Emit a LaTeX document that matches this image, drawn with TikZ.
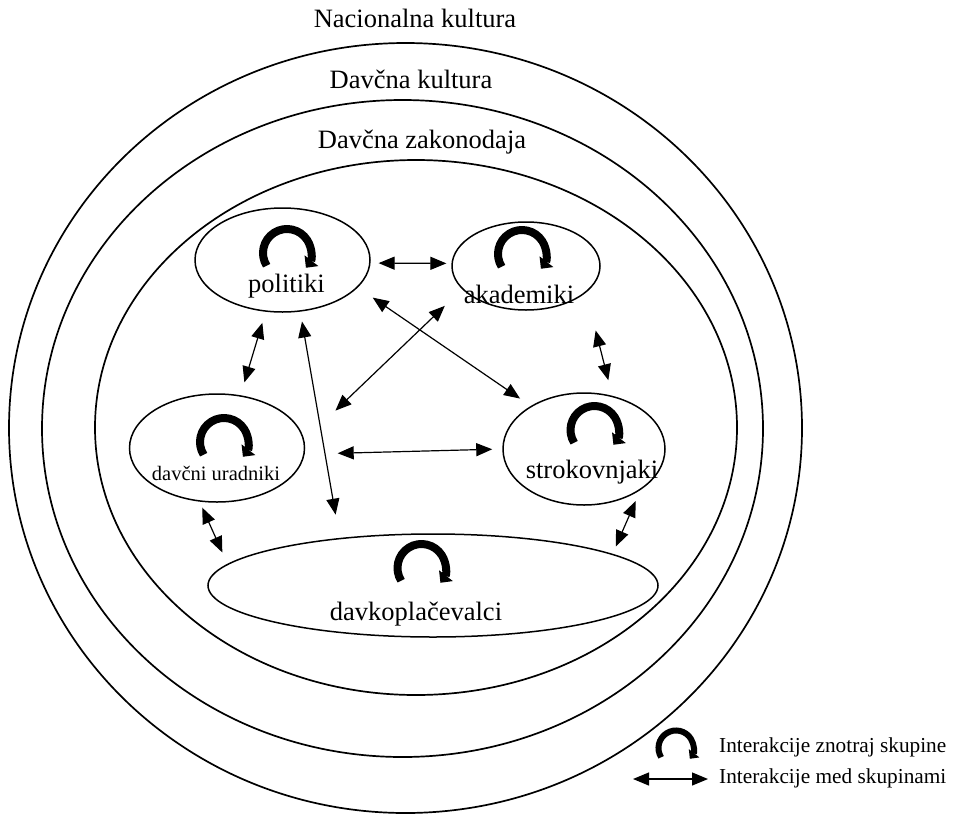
\documentclass[tikz,border=0pt]{standalone}
\usepackage{fontspec}
\setmainfont{Liberation Serif}
\usetikzlibrary{positioning,arrows.meta,shapes.geometric}

\begin{document}
\begin{tikzpicture}[
  x=1pt, y=1pt,
  font=\fontsize{26.5}{30}\selectfont,
  ring/.style={draw, ellipse, line width=1.7pt, inner sep=0pt},
  grp/.style={draw, ellipse, line width=1.5pt, inner sep=0pt},
  ttl/.style={anchor=base, inner sep=0pt},
  grptxt/.style={anchor=base, inner sep=0pt},
  lgdtxt/.style={anchor=base west, inner sep=0pt, font=\fontsize{21.3}{25}\selectfont},
  arr/.style={{Triangle[length=16pt,width=13pt]}-{Triangle[length=16pt,width=13pt]},
              line width=1.2pt},
  cycarr/.style={line width=8pt, -{Triangle[length=9pt,width=17pt]}},
  cyc/.pic={\draw[cycarr] (212:24) arc[start angle=212, end angle=-38, radius=24];}
]
\useasboundingbox (0,0) rectangle (955,-814);

%% the three nested cultures
\node[ring, minimum width=793, minimum height=770] (natcult) at (405.5,-428)   {};
\node[ring, minimum width=721, minimum height=657] (davcult) at (402.5,-428.5) {};
\node[ring, minimum width=642, minimum height=535] (davzak)  at (416,-427.5)   {};

\node[ttl] (natlbl)  at (415,-27)  {Nacionalna kultura};
\node[ttl] (cultlbl) at (411,-88)  {Davčna kultura};
\node[ttl] (zaklbl)  at (422,-148) {Davčna zakonodaja};

%% groups
\node[grp, minimum width=175, minimum height=104] (pol) at (282.5,-260) {};
\node[grp, minimum width=148, minimum height=88]  (aka) at (526,-266)   {};
\node[grp, minimum width=162, minimum height=112] (str) at (584,-449)   {};
\node[grp, minimum width=175, minimum height=108] (dur) at (217,-448)   {};
\node[grp, minimum width=450, minimum height=103] (dkp) at (433,-585.5) {};

\pic at (287,-253)   {cyc};
\pic at (522,-254)   {cyc};
\pic at (594.5,-430) {cyc};
\pic at (224,-442)   {cyc};
\pic at (421.5,-568) {cyc};

\node[grptxt] (poltxt) at (286.5,-292) {politiki};
\node[grptxt] (akatxt) at (519,-303)   {akademiki};
\node[grptxt] (strtxt) at (592,-478)   {strokovnjaki};
\node[grptxt, font=\fontsize{20.5}{24}\selectfont] (durtxt) at (216,-480) {davčni uradniki};
\node[grptxt] (dkptxt) at (416,-620)   {davkoplačevalci};

%% interactions between groups
\draw[arr, shorten <=8pt,  shorten >=5pt]    (pol.-2)    -- (aka.178);
\draw[arr, shorten <=18pt, shorten >=13pt]   (pol.-20)   -- (str.141);
\draw[arr, shorten <=24pt, shorten >=43pt]   (aka.200)   -- (dur.5);
\draw[arr, shorten <=39pt, shorten >=16pt]   (aka.-24)   -- (str.62);
\draw[arr, shorten <=11.5pt, shorten >=13.4pt] (pol.252.5) -- (dur.66);
\draw[arr, shorten <=10pt, shorten >=23.6pt] (pol.-71)   -- (dkp.153);
\draw[arr, shorten <=33pt, shorten >=10pt]   (dur.-4)    -- (str.180);
\draw[arr, shorten <=6.5pt, shorten >=12.5pt] (dur.252.6) -- (dkp.174);
\draw[arr, shorten <=12pt, shorten >=8pt]    (str.-36)   -- (dkp.10);

%% legend
\pic[scale=0.73, cycarr/.append style={line width=6pt,
     -{Triangle[length=7pt,width=13pt]}}] at (676,-748) {cyc};
\coordinate (lgl) at (633,-779);
\coordinate (lgr) at (708,-779);
\draw[arr] (lgl) -- (lgr);
\node[lgdtxt] (lgd1) at (719,-752) {Interakcije znotraj skupine};
\node[lgdtxt] (lgd2) at (719,-783) {Interakcije med skupinami};
\end{tikzpicture}
\end{document}
